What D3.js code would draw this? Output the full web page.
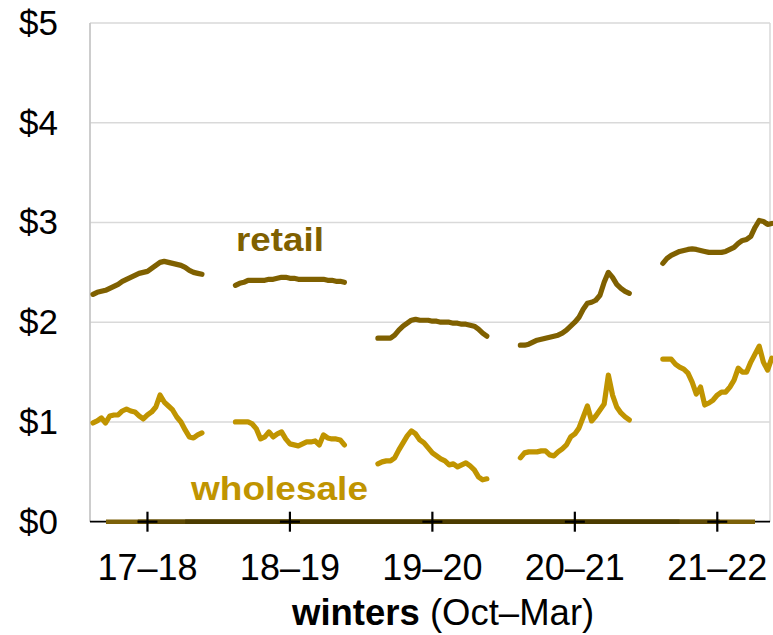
<!DOCTYPE html>
<html>
<head>
<meta charset="utf-8">
<script src="https://cdn.jsdelivr.net/npm/d3@7"></script>
<style>
  html, body { margin: 0; padding: 0; background: #fff; }
  svg { display: block; font-family: "Liberation Sans", Arial, sans-serif; }
</style>
</head>
<body>
<svg id="chart" width="773" height="635"></svg>
<script>
// ---------- data ----------
const winters = ["17–18", "18–19", "19–20", "20–21", "21–22"];
const weeksPerCycle = 34;   // 27 weekly obs (Oct–Mar) + off-season gap
const yTicks = [0, 1, 2, 3, 4, 5];

const retail = [
  [2.28,2.30,2.31,2.32,2.34,2.36,2.38,2.41,2.43,2.45,2.47,2.49,2.50,2.51,2.54,2.57,2.60,2.61,2.60,2.59,2.58,2.57,2.55,2.52,2.50,2.49,2.48],
  [2.37,2.39,2.40,2.42,2.42,2.42,2.42,2.42,2.43,2.43,2.44,2.45,2.45,2.44,2.44,2.43,2.43,2.43,2.43,2.43,2.43,2.43,2.42,2.42,2.41,2.41,2.40],
  [1.84,1.84,1.84,1.84,1.87,1.92,1.96,1.99,2.02,2.03,2.02,2.02,2.02,2.01,2.01,2.00,2.00,2.00,1.99,1.99,1.98,1.98,1.97,1.96,1.93,1.89,1.86],
  [1.77,1.77,1.78,1.80,1.82,1.83,1.84,1.85,1.86,1.87,1.89,1.92,1.96,2.00,2.05,2.13,2.19,2.20,2.22,2.27,2.40,2.50,2.45,2.38,2.34,2.31,2.29],
  [2.59,2.64,2.67,2.69,2.71,2.72,2.73,2.735,2.73,2.72,2.71,2.70,2.70,2.70,2.70,2.71,2.73,2.75,2.79,2.82,2.83,2.86,2.95,3.02,3.01,2.98,2.99]
];
const wholesale = [
  [0.99,1.01,1.04,0.99,1.06,1.07,1.07,1.11,1.13,1.11,1.10,1.06,1.03,1.07,1.10,1.15,1.27,1.20,1.16,1.12,1.05,1.00,0.92,0.85,0.84,0.87,0.89],
  [1.00,1.00,1.00,1.00,0.98,0.93,0.83,0.85,0.90,0.85,0.88,0.90,0.83,0.78,0.77,0.76,0.78,0.80,0.80,0.81,0.77,0.87,0.84,0.83,0.83,0.82,0.77],
  [0.58,0.60,0.61,0.61,0.64,0.72,0.79,0.86,0.91,0.88,0.82,0.79,0.74,0.69,0.66,0.63,0.61,0.57,0.58,0.55,0.57,0.59,0.56,0.52,0.45,0.42,0.43],
  [0.64,0.69,0.70,0.70,0.70,0.71,0.71,0.67,0.66,0.70,0.73,0.77,0.85,0.88,0.94,1.05,1.16,1.01,1.06,1.12,1.18,1.47,1.27,1.15,1.09,1.05,1.02],
  [1.63,1.63,1.63,1.58,1.55,1.53,1.49,1.40,1.28,1.35,1.17,1.19,1.22,1.27,1.30,1.30,1.35,1.42,1.54,1.50,1.50,1.60,1.68,1.76,1.60,1.52,1.64]
];
// off-season zero values drawn along the baseline (week-index extents)
const zeroBands = [
  { from: 3.1,  to: 158,   shade: "light"  },
  { from: 10.7, to: 149.6, shade: "medium" },
  { from: 22,   to: 140,   shade: "dark"   }
];

// ---------- layout ----------
const svg = d3.select("#chart");
const plotLeft = 90, plotRight = 770, plotTop = 23, plotBottom = 521.7;

const x = d3.scaleLinear().domain([-0.716, 161.58]).range([plotLeft, plotRight]);
const y = d3.scaleLinear().domain([0, 5]).range([plotBottom, plotTop]);

const retailColor = "#7f6000";
const wholesaleColor = "#c09400";
const shadeColor = { light: "#7c6109", medium: "#5f4a05", dark: "#4c3c00" };

// gridlines
svg.append("g").selectAll("line").data(yTicks.filter(d => d > 0)).join("line")
  .attr("x1", plotLeft).attr("x2", plotRight)
  .attr("y1", d => y(d)).attr("y2", d => y(d))
  .attr("stroke", "#d9d9d9").attr("stroke-width", 1.5);

// left axis and right border
svg.append("line").attr("x1", plotLeft).attr("x2", plotLeft).attr("y1", y(5)).attr("y2", y(0))
  .attr("stroke", "#c8c8c8").attr("stroke-width", 1.8);
svg.append("line").attr("x1", plotRight).attr("x2", plotRight).attr("y1", y(5)).attr("y2", y(0))
  .attr("stroke", "#d9d9d9").attr("stroke-width", 1.5);

// y labels
svg.append("g").selectAll("text").data(yTicks).join("text")
  .attr("x", 58).attr("y", d => y(d) + 12)
  .attr("text-anchor", "end")
  .attr("font-size", 35).attr("fill", "#000")
  .text(d => "$" + d);

// baseline (black)
svg.append("line").attr("x1", plotLeft).attr("x2", plotRight).attr("y1", y(0)).attr("y2", y(0))
  .attr("stroke", "#000").attr("stroke-width", 1.8);

// zero bands
svg.append("g").selectAll("line").data(zeroBands).join("line")
  .attr("x1", d => x(d.from)).attr("x2", d => x(d.to))
  .attr("y1", y(0)).attr("y2", y(0))
  .attr("stroke", d => shadeColor[d.shade]).attr("stroke-width", 4.5);

// tick crosses at winter centres
const centers = winters.map((w, k) => ({ label: w, pos: k * weeksPerCycle + 13 }));
svg.append("g").selectAll("line").data(centers).join("line")
  .attr("x1", d => x(d.pos)).attr("x2", d => x(d.pos))
  .attr("y1", y(0) - 10).attr("y2", y(0) + 10)
  .attr("stroke", "#000").attr("stroke-width", 2.2);
svg.append("g").selectAll("line").data(centers).join("line")
  .attr("x1", d => x(d.pos) - 10).attr("x2", d => x(d.pos) + 10)
  .attr("y1", y(0)).attr("y2", y(0))
  .attr("stroke", "#000").attr("stroke-width", 2.2);

// x labels
svg.append("g").selectAll("text").data(centers).join("text")
  .attr("x", d => x(d.pos)).attr("y", 580)
  .attr("text-anchor", "middle").attr("font-size", 36).attr("fill", "#000")
  .text(d => d.label);

// axis title
const title = svg.append("text").attr("x", 292).attr("y", 625).attr("font-size", 36.5).attr("fill", "#000");
title.append("tspan").attr("font-weight", "bold").text("winters");
title.append("tspan").text(" (Oct–Mar)");

// lines
const line = d3.line().x(d => x(d.w)).y(d => y(d.v));
function drawSeries(series, color) {
  const segs = series.map((vals, k) => vals.map((v, i) => ({ w: k * weeksPerCycle + i, v })));
  svg.append("g").selectAll("path").data(segs).join("path")
    .attr("d", line)
    .attr("fill", "none").attr("stroke", color)
    .attr("stroke-width", 5.2).attr("stroke-linecap", "round").attr("stroke-linejoin", "round");
}
drawSeries(wholesale, wholesaleColor);
drawSeries(retail, retailColor);

// series labels
svg.append("text").attr("x", 236).attr("y", 251)
  .attr("font-size", 33).attr("font-weight", "bold").attr("fill", retailColor)
  .attr("textLength", 88).attr("lengthAdjust", "spacingAndGlyphs")
  .text("retail");
svg.append("text").attr("x", 191).attr("y", 500)
  .attr("font-size", 33).attr("font-weight", "bold").attr("fill", wholesaleColor)
  .attr("textLength", 177).attr("lengthAdjust", "spacingAndGlyphs")
  .text("wholesale");
</script>
</body>
</html>
